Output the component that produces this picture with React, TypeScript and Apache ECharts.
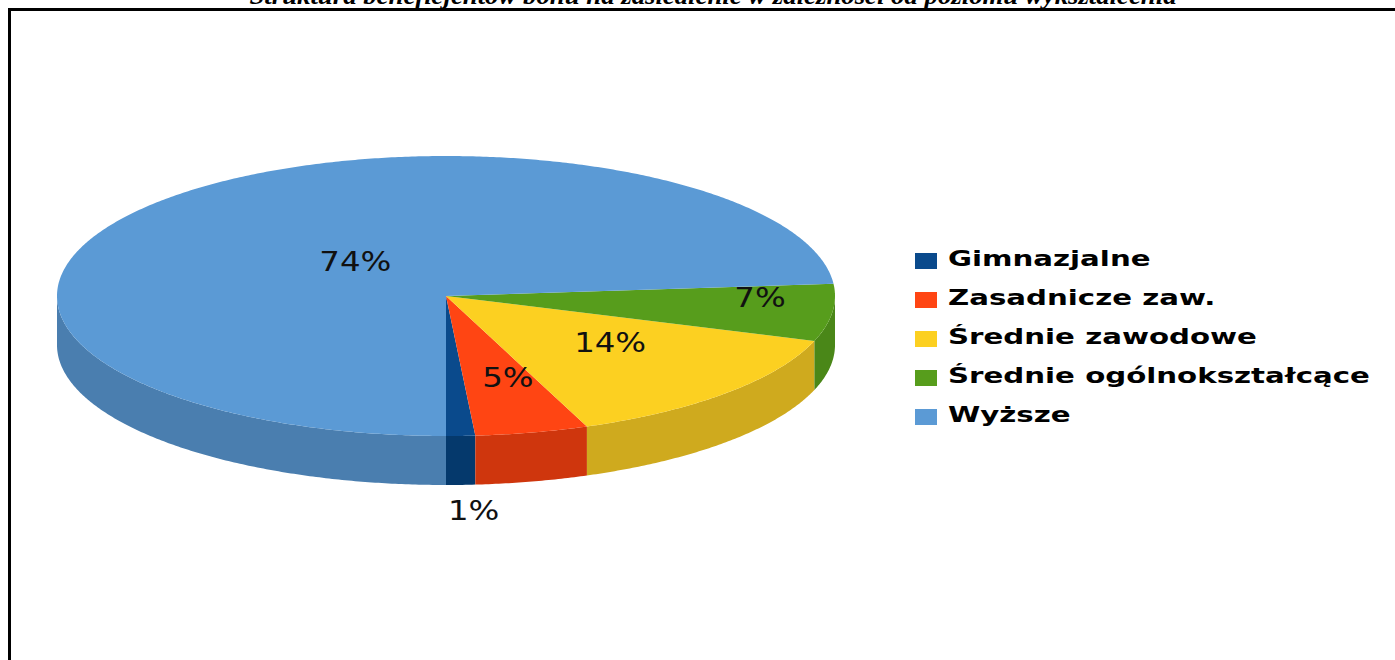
import React, { useEffect, useRef } from "react";
import * as echarts from "echarts";

const titleText =
  "Struktura beneficjentów bonu na zasiedlenie w zależności od poziomu wykształcenia";
const categories = [
  "Gimnazjalne",
  "Zasadnicze zaw.",
  "Średnie zawodowe",
  "Średnie ogólnokształcące",
  "Wyższe",
];
const shares = [1.2, 4.7, 13.9, 6.6, 73.6];
const topColors = ["#0a4a8c", "#ff4513", "#fcd021", "#579d1c", "#5b9ad5"];
const sideColors = ["#05396c", "#cf360d", "#cfaa1e", "#4a8718", "#4a7eaf"];
// relative radius of each value label (negative = outside, below the rim)
const labelRadius = [-1, 0.65, 0.52, 0.8, 0.33];
// small label nudges [dx, dy] in pixels
const labelNudge = [
  [13, 26],
  [6, -7],
  [18, -4],
  [5, -12],
  [4, -3],
];

export default function App() {
  const ref = useRef<HTMLDivElement>(null);

  useEffect(() => {
    if (!ref.current) return;
    const chart = echarts.init(ref.current, undefined, { renderer: "svg" });

    const CX = 446;
    const CY = 296;
    const RX = 389;
    const RY = 140;
    const DEPTH = 49;
    const total = shares.reduce((a, b) => a + b, 0);
    const cum: number[] = [];
    shares.reduce((acc, v, i) => {
      cum[i] = acc;
      return acc + v;
    }, 0);

    const arc = (a: number, b: number, dy: number) => {
      const n = Math.max(2, Math.ceil((b - a) / (Math.PI / 360)));
      const pts: number[][] = [];
      for (let k = 0; k <= n; k++) {
        const t = a + ((b - a) * k) / n;
        pts.push([CX + RX * Math.sin(t), CY + RY * Math.cos(t) + dy]);
      }
      return pts;
    };

    const renderItem = (params: any, api: any) => {
      const i = params.dataIndex;
      const v = api.value(0);
      const start = (cum[i] / total) * Math.PI * 2;
      const end = start + (v / total) * Math.PI * 2;
      const children: any[] = [];
      const ranges = [
        [0, Math.PI / 2],
        [(3 * Math.PI) / 2, Math.PI * 2],
      ];
      for (const r of ranges) {
        const s = Math.max(start, r[0]);
        const e = Math.min(end, r[1]);
        if (e > s) {
          children.push({
            type: "polygon",
            shape: { points: [...arc(s, e, 0), ...arc(s, e, DEPTH).reverse()] },
            style: { fill: sideColors[i] },
            z2: 1,
          });
        }
      }
      children.push({
        type: "polygon",
        shape: { points: [[CX, CY], ...arc(start, end, 0)] },
        style: { fill: topColors[i] },
        z2: 2,
      });
      const mid = (start + end) / 2;
      const rr = labelRadius[i];
      let lx: number, ly: number;
      if (rr > 0) {
        lx = CX + RX * rr * Math.sin(mid);
        ly = CY + RY * rr * Math.cos(mid);
      } else {
        lx = CX + RX * Math.sin(mid);
        ly = CY + RY * Math.cos(mid) + DEPTH;
      }
      lx += labelNudge[i][0];
      ly += labelNudge[i][1];
      children.push({
        type: "text",
        x: lx,
        y: ly,
        scaleX: 1.2,
        z2: 100,
        style: {
          text: Math.round((v / total) * 100) + "%",
          x: 0,
          y: 0,
          align: "center",
          verticalAlign: "middle",
          font: '27px "DejaVu Sans"',
          fill: "#111111",
        },
      });
      return { type: "group", children };
    };

    const legendGraphics: any[] = [];
    categories.forEach((name, i) => {
      const rowY = 258 + i * 39;
      legendGraphics.push({
        type: "rect",
        shape: { x: 915, y: rowY - 5, width: 22, height: 16 },
        style: { fill: topColors[i] },
      });
      legendGraphics.push({
        type: "text",
        x: 948,
        y: rowY,
        scaleX: 1.33,
        style: {
          text: name,
          x: 0,
          y: 0,
          align: "left",
          verticalAlign: "middle",
          font: 'bold 22px "DejaVu Sans"',
          fill: "#000000",
        },
      });
    });

    chart.setOption({
      animation: false,
      backgroundColor: "#ffffff",
      graphic: [
        {
          type: "rect",
          shape: { x: 9.5, y: 9.5, width: 1600, height: 900 },
          style: { fill: "none", stroke: "#000000", lineWidth: 3 },
          z: 10,
        },
        {
          type: "text",
          x: 713,
          y: 8,
          scaleX: 1.03,
          style: {
            text: titleText,
            x: 0,
            y: 0,
            align: "center",
            verticalAlign: "bottom",
            font: 'italic bold 26px "Liberation Serif"',
            fill: "#000000",
          },
          z: 10,
        },
        ...legendGraphics,
      ],
      series: [
        {
          type: "custom",
          coordinateSystem: "none",
          silent: true,
          renderItem,
          data: categories.map((name, i) => ({ name, value: shares[i] })),
        },
      ],
    });

    return () => chart.dispose();
  }, []);

  return (
    <div
      ref={ref}
      style={{ position: "fixed", left: 0, top: 0, width: 1395, height: 660 }}
    />
  );
}
